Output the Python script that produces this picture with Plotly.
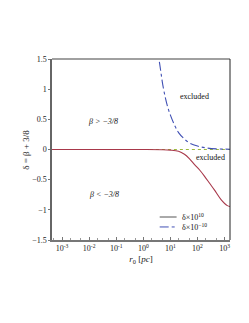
import plotly.graph_objects as go

# ---- data ----
r_big = [3e-4, 1e-3, 1e-2, 1e-1, 1, 5, 10, 20, 33, 50, 78, 120, 180, 280, 420, 740, 1260, 1800]
delta_big = [0.0, 0.0, 0.0, 0.0, 0.0, -0.003, -0.01, -0.03, -0.08, -0.15, -0.25, -0.34, -0.44, -0.56, -0.67, -0.83, -0.93, -0.95]

r_small = [3.3, 3.8, 4.5, 5.2, 6.5, 8, 10, 15, 20, 30, 50, 100, 200, 500, 1000, 1800]
delta_small = [1.75, 1.5, 1.27, 1.08, 0.86, 0.7, 0.57, 0.38, 0.28, 0.19, 0.11, 0.057, 0.028, 0.011, 0.006, 0.003]

r_zero = [3e-4, 1800]
delta_zero = [0.0, 0.0]

x_tickvals = [1e-3, 1e-2, 1e-1, 1, 10, 100, 1000]
x_ticktext = ["10<sup>-3</sup>", "10<sup>-2</sup>", "10<sup>-1</sup>", "10<sup>0</sup>",
              "10<sup>1</sup>", "10<sup>2</sup>", "10<sup>3</sup>"]
y_tickvals = [1.5, 1, 0.5, 0, -0.5, -1, -1.5]
y_ticktext = ["1.5", "1", "0.5", "0", "\u22120.5", "\u22121", "\u22121.5"]

FONT = "Liberation Serif"
RED = "#a8384a"
BLUE = "#4050b4"
GREEN = "#9ab83a"

fig = go.Figure()
fig.add_trace(go.Scatter(x=r_zero, y=delta_zero, mode="lines",
                         line=dict(color=GREEN, width=1.2, dash="dot"), showlegend=False))
fig.add_trace(go.Scatter(x=r_big, y=delta_big, mode="lines", line_shape="spline",
                         line=dict(color=RED, width=1.1), showlegend=False))
fig.add_trace(go.Scatter(x=r_small, y=delta_small, mode="lines", line_shape="spline",
                         line=dict(color=BLUE, width=1.1, dash="dashdot"), showlegend=False))

annots = [
    dict(x=-1.5, y=0.47, text="<i>\u03b2 > \u22123/8</i>"),
    dict(x=-1.45, y=-0.75, text="<i>\u03b2 < \u22123/8</i>"),
    dict(x=1.9, y=0.88, text="excluded"),
    dict(x=2.48, y=-0.13, text="excluded"),
]
for a in annots:
    fig.add_annotation(x=a["x"], y=a["y"], xref="x", yref="y", text=a["text"],
                       showarrow=False, font=dict(family=FONT, size=8, color="#111"))

# y-axis title as rotated annotation
fig.add_annotation(xref="paper", yref="paper", x=-0.15, y=0.5, text="\u03b4 = \u03b2 + 3/8",
                   textangle=-90, showarrow=False, xanchor="center", yanchor="middle",
                   font=dict(family=FONT, size=9, color="#222"))

# manual legend
leg = [("\u03b4\u00d710<sup>10</sup>", "#555555", "solid", 0.127),
       ("\u03b4\u00d710<sup>\u221210</sup>", BLUE, "dashdot", 0.072)]
for txt, col, dash, yy in leg:
    fig.add_shape(type="line", xref="paper", yref="paper", x0=0.605, x1=0.70, y0=yy, y1=yy,
                  line=dict(color=col, width=1, dash=dash))
    fig.add_annotation(xref="paper", yref="paper", x=0.72, y=yy, text=txt, showarrow=False,
                       xanchor="left", yanchor="middle", font=dict(family=FONT, size=8, color="#111"))

# frame: top gray, right black
fig.add_shape(type="line", xref="paper", yref="paper", x0=0, x1=1, y0=1, y1=1,
              line=dict(color="#a0a0a0", width=2))
fig.add_shape(type="line", xref="paper", yref="paper", x0=1, x1=1, y0=0, y1=1,
              line=dict(color="#222222", width=1))

fig.update_xaxes(type="log", range=[-3.37, 3.2], tickvals=x_tickvals, ticktext=x_ticktext,
                 showgrid=False, zeroline=False, showline=True, linecolor="#777", linewidth=1.5,
                 ticks="inside", ticklen=3, tickcolor="#777", automargin=False,
                 minor=dict(ticks="inside", ticklen=2, tickcolor="#999", showgrid=False),
                 tickfont=dict(family=FONT, size=8, color="#222"),
                 title=dict(text="<i>r</i><sub>0</sub> [<i>pc</i>]", font=dict(family=FONT, size=9, color="#222"),
                            standoff=3))
fig.update_yaxes(range=[-1.5, 1.5], tickvals=y_tickvals, ticktext=y_ticktext,
                 showgrid=False, zeroline=False, showline=True, linecolor="#666", linewidth=1.5,
                 ticks="outside", ticklen=2, tickcolor="#777", automargin=False,
                 tickfont=dict(family=FONT, size=8, color="#222"))

fig.update_layout(width=249, height=323, margin=dict(l=44, r=27, t=51, b=91),
                  plot_bgcolor="white", paper_bgcolor="white", showlegend=False)

fig.write_html("out.html")
